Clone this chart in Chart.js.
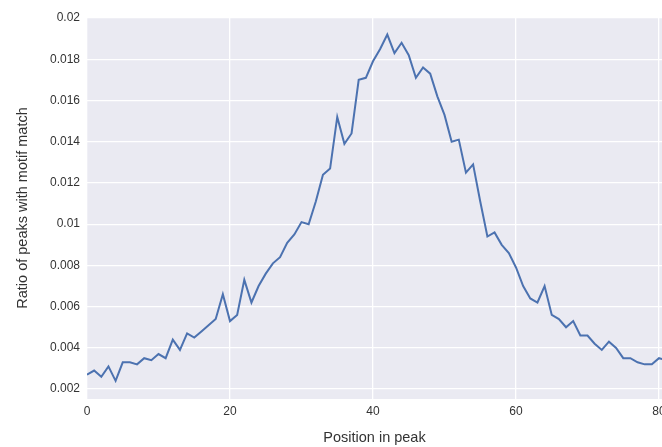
<!DOCTYPE html>
<html>
<head>
<meta charset="utf-8">
<script src="https://cdn.jsdelivr.net/npm/chart.js@4"></script>
<style>
html,body{margin:0;padding:0;background:#ffffff;overflow:hidden;}
#wrap{position:relative;width:662px;height:447px;}
</style>
</head>
<body>
<div id="wrap"><canvas id="c" width="662" height="447"></canvas></div>
<script>
// Data
const positions = [];
for (let i = 0; i <= 81; i++) positions.push(i);
const ratios = [
  0.0027, 0.0029, 0.0026, 0.0031, 0.0024, 0.0033, 0.0033, 0.0032, 0.0035, 0.0034,
  0.0037, 0.0035, 0.0044, 0.0039, 0.0047, 0.0045, 0.0048, 0.0051, 0.0054, 0.0066,
  0.0053, 0.0056, 0.0073, 0.0062, 0.0070, 0.0076, 0.0081, 0.0084, 0.0091, 0.0095,
  0.0101, 0.0100, 0.0111, 0.0124, 0.0127, 0.0152, 0.0139, 0.0144, 0.0170, 0.0171,
  0.0179, 0.0185, 0.0192, 0.0183, 0.0188, 0.0182, 0.0171, 0.0176, 0.0173, 0.0162,
  0.0153, 0.0140, 0.0141, 0.0125, 0.0129, 0.0111, 0.0094, 0.0096, 0.0090, 0.0086,
  0.0079, 0.0070, 0.0064, 0.0062, 0.0070, 0.0056, 0.0054, 0.0050, 0.0053, 0.0046,
  0.0046, 0.0042, 0.0039, 0.0043, 0.0040, 0.0035, 0.0035, 0.0033, 0.0032, 0.0032,
  0.0035, 0.0034
];
const xTicks = [0, 20, 40, 60, 80];
const yTicks = [0.002, 0.004, 0.006, 0.008, 0.01, 0.012, 0.014, 0.016, 0.018, 0.02];
const xTitle = 'Position in peak';
const yTitle = 'Ratio of peaks with motif match';

const bgPlugin = {
  id: 'plotBg',
  beforeDraw(chart) {
    const {ctx, chartArea: a} = chart;
    ctx.save();
    ctx.fillStyle = '#EAEAF2';
    ctx.fillRect(a.left, a.top, a.right - a.left, a.bottom - a.top);
    ctx.restore();
  }
};

const tickFont = {family: '"Liberation Sans", Arial, sans-serif', size: 12};
const titleFont = {family: '"Liberation Sans", Arial, sans-serif', size: 14.5};

new Chart(document.getElementById('c'), {
  type: 'line',
  data: {
    datasets: [{
      data: positions.map((p, i) => ({x: p, y: ratios[i]})),
      borderColor: '#4C72B0',
      borderWidth: 2,
      pointRadius: 0,
      tension: 0,
      fill: false
    }]
  },
  options: {
    responsive: false,
    animation: false,
    events: [],
    layout: {padding: {top: 17, right: 0, left: 0, bottom: 0}},
    plugins: {legend: {display: false}, tooltip: {enabled: false}},
    scales: {
      x: {
        type: 'linear',
        min: 0,
        max: 80.42,
        afterBuildTicks(s) { s.ticks = xTicks.map(v => ({value: v})); },
        afterFit(s) { s.height = 48; s.paddingRight = 0; s.paddingLeft = 0; },
        grid: {color: '#FFFFFF', lineWidth: 1.3, drawTicks: false},
        border: {display: false},
        ticks: {color: '#333333', font: tickFont, padding: 5, maxRotation: 0, autoSkip: false,
                callback: v => String(v)},
        title: {display: true, text: xTitle, color: '#333333', font: titleFont, padding: {top: 0, bottom: 0}}
      },
      y: {
        type: 'linear',
        min: 0.00152,
        max: 0.02005,
        afterBuildTicks(s) { s.ticks = yTicks.map(v => ({value: v})); },
        afterFit(s) { s.width = 87; },
        grid: {color: '#FFFFFF', lineWidth: 1.3, drawTicks: false},
        border: {display: false},
        ticks: {color: '#333333', font: tickFont, padding: 7, autoSkip: false,
                callback: v => String(+v.toFixed(4))},
        title: {display: true, text: yTitle, color: '#333333', font: titleFont, padding: {top: 14, bottom: 0}}
      }
    }
  },
  plugins: [bgPlugin]
});
</script>
</body>
</html>
